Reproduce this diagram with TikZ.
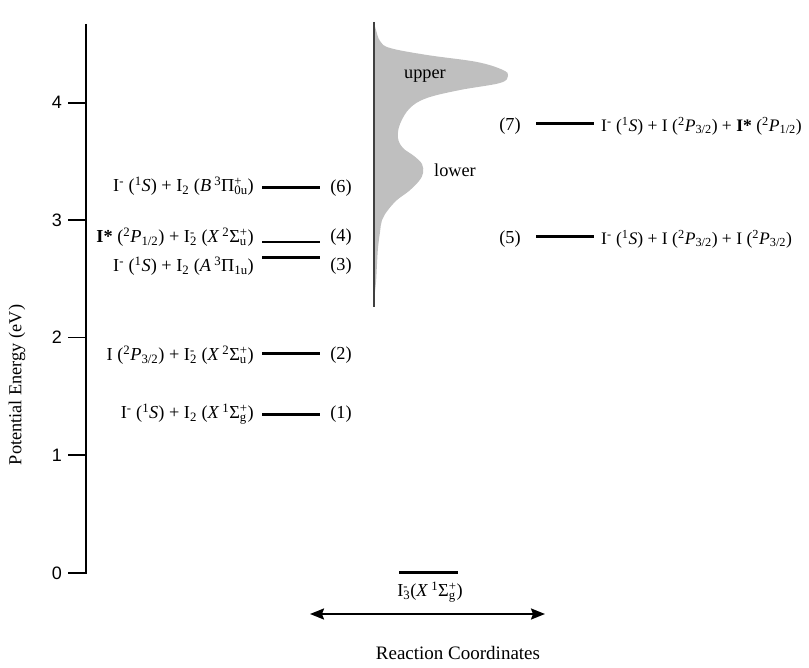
\documentclass[tikz,border=0pt]{standalone}
\usepackage{fontspec}
\setmainfont{Liberation Serif}
\newfontfamily\ticksans{Liberation Sans}
\usetikzlibrary{arrows.meta}

% anion and excited-atom symbols
\newcommand\Ineg{I\textsuperscript{-}}
\newcommand\Istar{\textbf{I*}}
% superscript stacked over a subscript
\newcommand\supsub[2]{%
  \setbox0\hbox{\textsuperscript{#1}}%
  \setbox2\hbox{\textsubscript{#2}}%
  \ifdim\wd0>\wd2 \rlap{\copy2}\copy0 \else\rlap{\copy0}\copy2 \fi}

\tikzset{
  lab/.style={inner sep=0pt, font=\fontsize{18.3}{21}\selectfont},
  rlab/.style={inner sep=0pt, font=\fontsize{17.6}{21}\selectfont},
  num/.style={inner sep=0pt, font=\fontsize{18.3}{21}\selectfont},
  ticklab/.style={inner sep=0pt, font=\ticksans\fontsize{18}{20}\selectfont},
  level/.style={line width=3pt},
  axisline/.style={line width=2.4pt},
  tickline/.style={line width=1.8pt},
}

\begin{document}
\begin{tikzpicture}[x=1pt,y=-1pt]
\useasboundingbox (0,0) rectangle (809,668);

% energy axis with ticks
\draw[axisline] (86,24) -- (86,574);
\foreach \v/\y in {0/573,1/455.3,2/337.6,3/219.9,4/102.7}{
  \draw[tickline] (68,\y) -- (86,\y);
  \node[ticklab] (tick\v) at (57,\y) {\v};
}
\node[lab, rotate=90] (ylab) at (17,385) {Potential Energy (eV)};

% photoexcitation band: filled distribution along its baseline
\fill[black!25]
  plot[smooth, tension=0.6] coordinates {
    (374,23) (376,30) (380,41) (390,48) (427,55) (477,62) (503,70) (508,76)
    (500,83) (460,90) (427,98) (410,108) (400,124) (398,138) (403,148)
    (414,156) (422,164) (423,173) (419,181) (409,191) (397,200) (388,210)
    (382,220) (380,232) (378,248) (377,264) (376,282) (374,300)}
  -- cycle;
\draw[line width=1.3pt, black!75] (374,22) -- (374,307);
\node[lab] (upper) at (425,76) {upper};
\node[lab] (lower) at (455,170) {lower};

% dissociation limits on the left
\draw[level] (262,188) -- (320,188);
\node[lab, anchor=east] (t6) at (254,186)
  {\Ineg\ (\textsuperscript{1}\textit{S}) + I\textsubscript{2} (\textit{B}\,\textsuperscript{3}Π\supsub{+}{0u})};
\node[num] (n6) at (341,188) {(6)};

\draw[level, line width=2.6pt] (262,242) -- (320,242);
\node[lab, anchor=east] (t4) at (254,237)
  {\Istar\ (\textsuperscript{2}\textit{P}\textsubscript{1/2}) + I\supsub{-}{2} (\textit{X}\,\textsuperscript{2}Σ\supsub{+}{u})};
\node[num] (n4) at (341,237) {(4)};

\draw[level] (262,258) -- (320,258);
\node[lab, anchor=east] (t3) at (254,266)
  {\Ineg\ (\textsuperscript{1}\textit{S}) + I\textsubscript{2} (\textit{A}\,\textsuperscript{3}Π\textsubscript{1u})};
\node[num] (n3) at (341,266) {(3)};

\draw[level] (262,354) -- (320,354);
\node[lab, anchor=east] (t2) at (254,355)
  {I (\textsuperscript{2}\textit{P}\textsubscript{3/2}) + I\supsub{-}{2} (\textit{X}\,\textsuperscript{2}Σ\supsub{+}{u})};
\node[num] (n2) at (341,355) {(2)};

\draw[level] (262,414) -- (320,414);
\node[lab, anchor=east] (t1) at (254,414)
  {\Ineg\ (\textsuperscript{1}\textit{S}) + I\textsubscript{2} (\textit{X}\,\textsuperscript{1}Σ\supsub{+}{g})};
\node[num] (n1) at (341,414) {(1)};

% three-body limits on the right
\node[num] (n7) at (510,126) {(7)};
\draw[level] (536,124) -- (594,124);
\node[rlab, anchor=west] (t7) at (601,126)
  {\Ineg\ (\textsuperscript{1}\textit{S}) + I (\textsuperscript{2}\textit{P}\textsubscript{3/2}) + \Istar\ (\textsuperscript{2}\textit{P}\textsubscript{1/2})};

\node[num] (n5) at (510,239) {(5)};
\draw[level] (536,237) -- (594,237);
\node[rlab, anchor=west] (t5) at (601,239)
  {\Ineg\ (\textsuperscript{1}\textit{S}) + I (\textsuperscript{2}\textit{P}\textsubscript{3/2}) + I (\textsuperscript{2}\textit{P}\textsubscript{3/2})};

% ground state of the triiodide anion
\draw[level] (399,572) -- (458,572);
\node[lab] (t0) at (430,592)
  {I\supsub{-}{3}(\textit{X}\,\textsuperscript{1}Σ\supsub{+}{g})};

% reaction coordinate arrow
\coordinate (rcL) at (310,614);
\coordinate (rcR) at (545,614);
\draw[line width=2pt, {Stealth[length=14pt,width=11pt,inset=2pt]}-{Stealth[length=14pt,width=11pt,inset=2pt]}] (rcL) -- (rcR);
\node[lab, font=\fontsize{19}{22}\selectfont] (rc) at (458,653) {Reaction Coordinates};
\end{tikzpicture}
\end{document}
